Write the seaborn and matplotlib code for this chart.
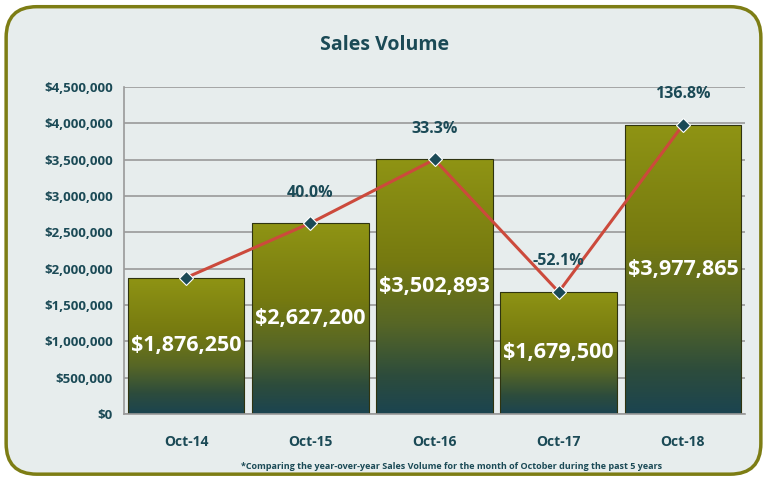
import numpy as np
import pandas as pd
import matplotlib
matplotlib.use("Agg")
import matplotlib.pyplot as plt
from matplotlib.colors import LinearSegmentedColormap
from matplotlib.patches import FancyBboxPatch
import seaborn as sns

# data
months = ["Oct-14", "Oct-15", "Oct-16", "Oct-17", "Oct-18"]
sales = [1876250, 2627200, 3502893, 1679500, 3977865]
sales_labels = ["$1,876,250", "$2,627,200", "$3,502,893", "$1,679,500", "$3,977,865"]
change_labels = ["", "40.0%", "33.3%", "-52.1%", "136.8%"]
y_ticks = [0, 500000, 1000000, 1500000, 2000000, 2500000, 3000000, 3500000, 4000000, 4500000]

df = pd.DataFrame({"month": months, "sales": sales})

sns.set_theme(style="white")
plt.rcParams["font.family"] = ["Open Sans", "DejaVu Sans"]

bg = "#e7eded"
teal = "#1b4a56"
olive = "#7d7d14"

fig = plt.figure(figsize=(7.67, 4.78), dpi=100)
fig.patch.set_facecolor("white")
frame = FancyBboxPatch((0.008, 0.008), 0.984, 0.978, boxstyle="round,pad=0,rounding_size=0.04",
                       transform=fig.transFigure, facecolor=bg, edgecolor=olive, linewidth=2.5,
                       mutation_aspect=767 / 478, zorder=-1)
fig.patches.append(frame)

ax = fig.add_axes([0.1617, 0.1339, 0.8096, 0.6841])
ax.set_facecolor(bg)

sns.barplot(data=df, x="month", y="sales", ax=ax, width=0.94, color=olive,
            edgecolor="#2f3410", linewidth=0.8, zorder=2)

# vertical olive -> dark teal fill for each bar
grad = LinearSegmentedColormap.from_list(
    "g", [(0, "#1b4450"), (0.15, "#2d4c3c"), (0.35, "#566626"), (0.6, "#767a10"), (1, "#8f9414")])
img = np.linspace(0, 1, 256).reshape(-1, 1)
for p in ax.patches:
    x0, y0 = p.get_x(), p.get_y()
    w, h = p.get_width(), p.get_height()
    im = ax.imshow(img, cmap=grad, origin="lower", aspect="auto",
                   extent=[x0, x0 + w, y0, y0 + h], zorder=2.1)
    im.set_clip_path(p)
    p.set_facecolor("none")
    p.set_zorder(2.2)

ax.set_xlim(-0.5, len(months) - 0.5)
ax.set_ylim(0, 4500000)

ax.plot(range(len(months)), sales, color="#cc4a3c", linewidth=2.2, zorder=3)
ax.plot(range(len(months)), sales, linestyle="none", marker="D", markersize=7,
        markerfacecolor=teal, markeredgecolor="white", markeredgewidth=0.8, zorder=4)

for i, (v, lab) in enumerate(zip(sales, sales_labels)):
    ax.text(i, v / 2, lab, ha="center", va="center", color="white",
            fontsize=15.5, fontweight="bold", zorder=5)
for i, (v, lab) in enumerate(zip(sales, change_labels)):
    if lab:
        ax.text(i, v + 420000, lab, ha="center", va="center", color=teal,
                fontsize=11.5, fontweight="bold", zorder=5)

ax.set_yticks(y_ticks)
ax.set_yticklabels([f"${t:,.0f}" for t in y_ticks], fontsize=9.5, fontweight="bold", color=teal)
ax.yaxis.grid(True, color="#9a9a9a", linewidth=1.2, zorder=0)
ax.set_axisbelow(True)

ax.set_xticks(range(len(months)))
ax.set_xticklabels(months, fontsize=10, fontweight="bold", color=teal)
ax.set_xticks(np.arange(-0.5, len(months)), minor=True)
ax.tick_params(axis="x", which="major", length=0, pad=15)
ax.tick_params(axis="x", which="minor", length=5, color="#9a9a9a", width=1.2, direction="out")
ax.tick_params(axis="y", length=5, color="#9a9a9a", width=1.2, direction="out", pad=3)
ax.set_xlabel("")
ax.set_ylabel("")

for s in ["top", "right"]:
    ax.spines[s].set_visible(False)
for s in ["left", "bottom"]:
    ax.spines[s].set_color("#9a9a9a")
    ax.spines[s].set_linewidth(1.2)

fig.text(0.501, 0.905, "Sales Volume", ha="center", va="center", fontsize=14,
         fontweight="bold", color=teal)
fig.text(0.589, 0.025, "*Comparing the year-over-year Sales Volume for the month of October during the past 5 years",
         ha="center", va="center", fontsize=6.5, fontweight="bold", color=teal)

fig.savefig("out.png", dpi=100, facecolor="white")
